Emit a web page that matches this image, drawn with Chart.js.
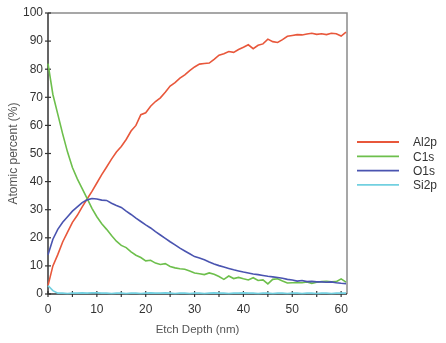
<!DOCTYPE html>
<html>
<head>
<meta charset="utf-8">
<script src="https://cdn.jsdelivr.net/npm/chart.js@4"></script>
<style>
html,body{margin:0;padding:0;background:#fff;}
#wrap{width:446px;height:343px;position:relative;}
</style>
</head>
<body>
<div id="wrap"><canvas id="c" width="446" height="343"></canvas></div>
<script>
const depth = [0,1,2,3,4,5,6,7,8,9,10,11,12,13,14,15,16,17,18,19,20,21,22,23,24,25,26,27,28,29,30,31,32,33,34,35,36,37,38,39,40,41,42,43,44,45,46,47,48,49,50,51,52,53,54,55,56,57,58,59,60,61];
const al2p = [3,10,14,18.5,22,25.5,28,31,33.8,36.5,39.5,42.5,45.2,48,50.5,52.5,55,58,60,63.8,64.5,66.8,68.5,69.8,71.8,74,75.2,76.8,78,79.5,80.8,81.8,82,82.2,83.5,85,85.5,86.3,86,87,87.8,88.7,87.3,88.5,89,90.7,89.8,89.5,90.5,91.7,92,92.3,92.2,92.5,92.8,92.4,92.6,92.3,92.8,92.6,91.8,93.2];
const c1s = [82,71,64,57,50.5,45,41,37.5,34,30.5,27.5,25,23,20.8,18.8,17.3,16.5,15,13.8,13,11.8,12,11,10.5,10.8,9.8,9.3,9,8.8,8.2,7.5,7.2,6.9,7.5,7,6.2,5.2,6.4,5.5,5.9,5.4,5,5.8,4.8,5,3.6,5.2,5.4,4.6,3.9,4,4.1,4,4.3,3.8,4.2,4.4,4.5,4.3,4.4,5.4,4.2];
const o1s = [14,19.5,23,25.5,27.5,29.5,31,32.5,33.5,34,33.8,33.4,33.3,32.3,31.5,30.8,29.5,28.3,27,25.8,24.6,23.5,22.2,21,19.8,18.6,17.5,16.3,15.3,14.3,13.3,12.8,12.2,11.4,10.7,10.1,9.6,9.1,8.6,8.2,7.8,7.5,7.1,6.9,6.6,6.3,6.1,5.9,5.6,5.2,5,4.6,4.8,4.4,4.5,4.3,4.3,4.2,4.3,4,3.8,3.7];
const si2p = [3,1.2,0.3,0.3,0.2,0.3,0.3,0.4,0.3,0.4,0.4,0.3,0.3,0.2,0.3,0.3,0.2,0.3,0.3,0.2,0.3,0.4,0.3,0.3,0.4,0.3,0.2,0.3,0.3,0.2,0.3,0.3,0.2,0.3,0.4,0.3,0.3,0.2,0.3,0.3,0.4,0.3,0.3,0.2,0.3,0.3,0.2,0.3,0.3,0.2,0.3,0.3,0.2,0.3,0.3,0.2,0.3,0.3,0.2,0.3,0.3,0.3];
const seriesNames = ['Al2p','C1s','O1s','Si2p'];
const seriesColors = ['#e8573b','#6dbf4c','#4a54b0','#72d0e0'];
const xTitle = 'Etch Depth (nm)';
const yTitle = 'Atomic percent (%)';

const FONT = 'Liberation Sans, Arial, sans-serif';

function toPts(arr){ return arr.map((v,i)=>({x:depth[i], y:v})); }

const frame = {
  id:'frame',
  beforeDatasetsDraw(chart){
    const {ctx, chartArea:a, scales} = chart;
    ctx.save();
    ctx.strokeStyle = '#8a8a8a';
    ctx.lineWidth = 1.5;
    ctx.beginPath();
    ctx.moveTo(a.left, a.top); ctx.lineTo(a.right, a.top); ctx.lineTo(a.right, a.bottom);
    ctx.stroke();
    ctx.strokeStyle = '#333';
    ctx.lineWidth = 1.5;
    ctx.beginPath();
    ctx.moveTo(a.left, a.top); ctx.lineTo(a.left, a.bottom); ctx.lineTo(a.right, a.bottom);
    ctx.stroke();
    ctx.lineWidth = 1.2;
    scales.y.ticks.forEach(t=>{
      const y = scales.y.getPixelForValue(t.value);
      ctx.beginPath(); ctx.moveTo(a.left-3, y); ctx.lineTo(a.left+3, y); ctx.stroke();
    });
    scales.x.ticks.forEach(t=>{
      const x = scales.x.getPixelForValue(t.value);
      ctx.beginPath(); ctx.moveTo(x, a.bottom-3); ctx.lineTo(x, a.bottom+3); ctx.stroke();
    });
    ctx.restore();
  },
  afterDraw(chart){
    const {ctx} = chart;
    ctx.save();
    ctx.font = '12px ' + FONT;
    ctx.textBaseline = 'middle';
    ctx.fillStyle = '#333';
    chart.data.datasets.forEach((ds,i)=>{
      const y = 142 + i*14.3;
      ctx.strokeStyle = ds.borderColor;
      ctx.lineWidth = 1.8;
      ctx.beginPath(); ctx.moveTo(357, y); ctx.lineTo(399, y); ctx.stroke();
      ctx.fillText(ds.label, 413, y+1);
    });
    ctx.restore();
  }
};

new Chart(document.getElementById('c'), {
  type:'line',
  data:{
    datasets: [al2p, c1s, o1s, si2p].map((arr,i)=>({
      label: seriesNames[i],
      data: toPts(arr),
      borderColor: seriesColors[i],
      backgroundColor: seriesColors[i],
      borderWidth: 1.6,
      pointRadius: 0,
      tension: 0,
      fill: false,
      clip: false,
      order: 3 - i
    }))
  },
  options:{
    responsive:false,
    animation:false,
    layout:{padding:{top:13, right:99, left:0, bottom:0}},
    plugins:{legend:{display:false}, tooltip:{enabled:false}},
    scales:{
      x:{
        type:'linear', min:0, max:61.2,
        grid:{display:false, drawTicks:false},
        border:{display:false},
        ticks:{stepSize:5, includeBounds:false, padding:8, color:'#333',
          font:{family:FONT, size:12},
          callback:(v)=> (v % 10 === 0 ? String(v) : '')},
        title:{display:true, text:xTitle, color:'#555', font:{family:FONT, size:11.5}, padding:{top:0,bottom:6}},
        afterFit(s){ s.height = 49; }
      },
      y:{
        type:'linear', min:0, max:100,
        grid:{display:false, drawTicks:false},
        border:{display:false},
        ticks:{stepSize:5, padding:5, color:'#333',
          font:{family:FONT, size:12},
          callback:(v)=> (v % 10 === 0 ? String(v) : '')},
        title:{display:true, text:yTitle, color:'#555', font:{family:FONT, size:12}, padding:{top:6,bottom:0}},
        afterFit(s){ s.width = 48; }
      }
    }
  },
  plugins:[frame]
});
</script>
</body>
</html>
